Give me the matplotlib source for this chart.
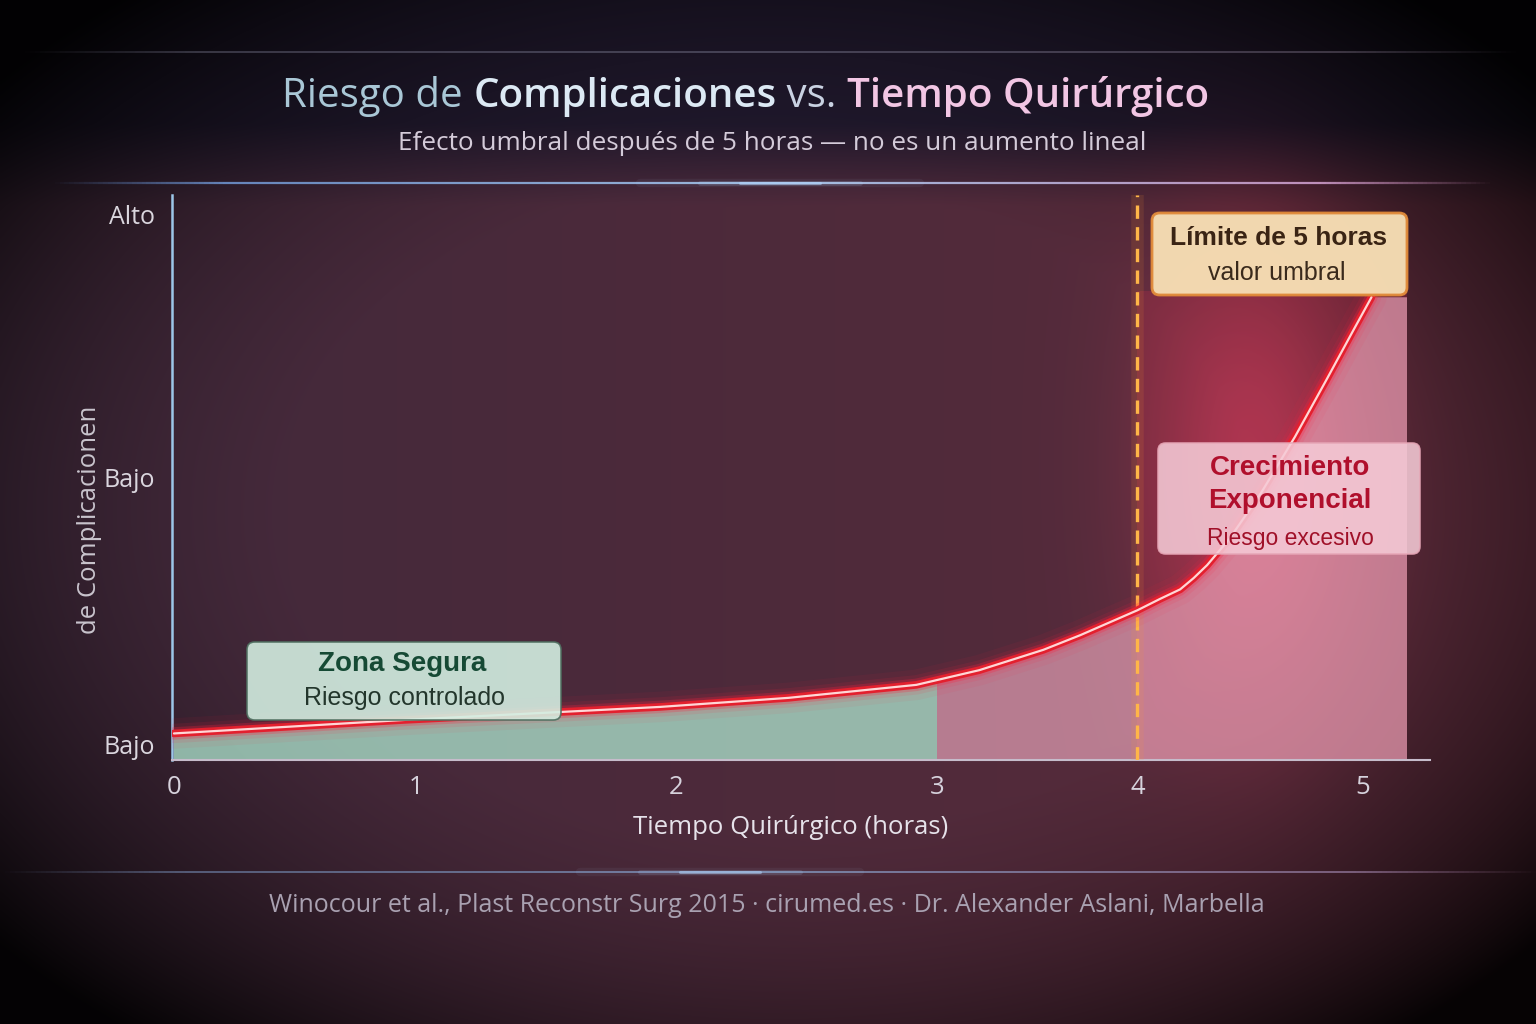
import numpy as np
import matplotlib.pyplot as plt
from matplotlib.patches import FancyBboxPatch, Polygon
from matplotlib.collections import LineCollection
from matplotlib.colors import LinearSegmentedColormap

# ---- data ----
hours = [0, 1, 2, 3, 4, 5]
hour_labels = ['0', '1', '2', '3', '4', '5']
curve_h = [0.0, 0.955, 1.94, 2.43, 2.92, 3.21, 3.53, 3.715, 4.0, 4.1, 4.19, 4.25,
           4.31, 4.41, 4.55, 4.70, 4.84, 4.96, 5.04]
curve_risk = [0.047, 0.071, 0.094, 0.110, 0.133, 0.159, 0.195, 0.221, 0.265, 0.285,
              0.302, 0.322, 0.345, 0.392, 0.473, 0.572, 0.673, 0.761, 0.819]
risk_ticks = [0.027, 0.5, 0.965]
risk_labels = ['Bajo', 'Bajo', 'Alto']
safe_end = 3.0
threshold = 4.0
zone_end = 5.2

# uneven spacing of the hour ticks on the axis (pixels from origin)
tick_px = [0, 242, 502, 763, 963, 1188]

W, H = 1536, 1024
fig = plt.figure(figsize=(15.36, 10.24), dpi=100)


def fx(px):
    return px / W


def fy(py):
    return 1 - py / H


# ---- background ----
yy, xx = np.mgrid[0:1:512j, 0:1:768j]
left_c = np.array([0.25, 0.16, 0.23])
right_c = np.array([0.36, 0.17, 0.23])
img = left_c + (right_c - left_c) * xx[..., None]
topmix = np.clip((0.2 - yy) / 0.08, 0, 1)[..., None]
img = img * (1 - topmix) + np.array([0.13, 0.10, 0.18]) * topmix
glow = np.exp(-(((xx - 0.82) / 0.07) ** 2 + ((yy - 0.45) / 0.24) ** 2))
img = img + glow[..., None] * np.array([0.30, 0.05, 0.09])
d = ((xx - 0.5) / 0.55) ** 2 + ((yy - 0.5) / 0.55) ** 2
vig = np.clip(1.12 - 0.62 * d ** 1.5, 0.07, 1)
img = np.clip(img * vig[..., None], 0, 1)

bg = fig.add_axes([0, 0, 1, 1], zorder=-5)
bg.imshow(img, extent=(0, 1, 0, 1), aspect='auto', interpolation='bicubic')
bg.set_axis_off()


# decorative lines
def glow_line(y, x0, x1, colors, peak, alpha=0.9, lw=1.6):
    xs = np.linspace(x0, x1, 300)
    pts = np.column_stack([fx(xs), np.full_like(xs, fy(y))])
    segs = np.stack([pts[:-1], pts[1:]], axis=1)
    cmap = LinearSegmentedColormap.from_list('g', colors)
    t = (xs[:-1] - x0) / (x1 - x0)
    cols = cmap(t)
    fade = np.clip(np.minimum(t, 1 - t) / 0.12, 0, 1)
    cols[:, 3] = alpha * fade
    fig.add_artist(LineCollection(segs, colors=cols, linewidths=lw,
                                  transform=fig.transFigure))
    if peak is not None:
        for half, w, a in [(140, 6, 0.06), (80, 3.5, 0.15), (40, 2.2, 0.5)]:
            fig.add_artist(plt.Line2D([fx(peak - half), fx(peak + half)], [fy(y), fy(y)],
                                      lw=w, color='#b4d8ff', alpha=a,
                                      transform=fig.transFigure, solid_capstyle='round'))


glow_line(52, 20, 1516, ['#7a7a90', '#9090a8', '#8a7a90'], None, alpha=0.45, lw=1.2)
glow_line(183, 50, 1490, ['#5a80c0', '#a8c8ee', '#d890c0'], 780, alpha=0.9, lw=1.6)
glow_line(872, 0, 1536, ['#6a7aa0', '#90b8e8', '#b080a8'], 720, alpha=0.6, lw=1.4)

# ---- title ----
font = 'Open Sans'
pieces = [('Riesgo de ', '#a9c7d6', 'normal'),
          ('Complicaciones', '#dce9f4', 'semibold'),
          (' vs. ', '#c9d2e2', 'normal'),
          ('Tiempo Quirúrgico', '#f2c6e4', 'semibold')]
anchor = fig.text(fx(282), fy(107), pieces[0][0], color=pieces[0][1],
                  fontsize=29, family=font, weight=pieces[0][2],
                  ha='left', va='baseline')
for txt, col, wt in pieces[1:]:
    anchor = plt.annotate(txt, xy=(1, 0), xycoords=anchor, xytext=(0, 0),
                          textcoords='offset points', color=col, fontsize=29,
                          family=font, weight=wt, ha='left', va='bottom',
                          annotation_clip=False)

fig.text(fx(772), fy(144), 'Efecto umbral después de 5 horas — no es un aumento lineal',
         color='#d4cbd9', fontsize=18.8, family=font, ha='center', va='center')

# ---- main axes ----
ax = fig.add_axes([fx(172), fy(760), fx(1430) - fx(172), fy(195) - fy(760)])
ax.set_facecolor('none')

hp = np.array(hours, float)
tp = np.array(tick_px, float)


def fwd(h):
    h = np.asarray(h, float)
    out = np.interp(h, hp, tp)
    out = np.where(h > hp[-1], tp[-1] + (h - hp[-1]) * 225, out)
    return np.where(h < 0, h * 242, out)


def inv(p):
    p = np.asarray(p, float)
    out = np.interp(p, tp, hp)
    out = np.where(p > tp[-1], hp[-1] + (p - tp[-1]) / 225, out)
    return np.where(p < 0, p / 242, out)


ax.set_xscale('function', functions=(fwd, inv))
ax.set_xlim(-0.008, 5.3)
ax.set_ylim(0, 1)

# area under the curve, used to clip the zone fills
under = Polygon(np.column_stack([[0] + curve_h + [zone_end, zone_end],
                                 [0] + curve_risk + [curve_risk[-1], 0]]),
                closed=True, transform=ax.transData, facecolor='none', edgecolor='none')
ax.add_patch(under)

ax.axvspan(threshold, zone_end, ymax=0.83, color='#e0304e', alpha=0.2, lw=0, zorder=1)
green = ax.axvspan(0, safe_end, color='#b0ead2', alpha=0.74, lw=0, zorder=2)
green.set_clip_path(under)
pink = ax.axvspan(safe_end, zone_end, color='#f6b0c6', alpha=0.62, lw=0, zorder=2)
pink.set_clip_path(under)

# threshold line
ax.axvline(threshold, color='#ff9a30', lw=9, alpha=0.12, zorder=3)
ax.axvline(threshold, color='#ffb648', lw=2.4, ls=(0, (4, 2.5)), zorder=3)

# risk curve with glow
for lw, a in [(22, 0.06), (14, 0.10), (9, 0.25)]:
    ax.plot(curve_h, curve_risk, color='#ff2040', lw=lw, alpha=a,
            solid_capstyle='round', solid_joinstyle='round', zorder=4)
ax.plot(curve_h, curve_risk, color='#e3202e', lw=5.5, solid_capstyle='round',
        solid_joinstyle='round', zorder=5)
ax.plot(curve_h, curve_risk, color='#ffd6d6', lw=1.6, solid_capstyle='round',
        solid_joinstyle='round', zorder=6)

for s in ['top', 'right']:
    ax.spines[s].set_visible(False)
ax.spines['left'].set_color('#9cc6e8')
ax.spines['left'].set_linewidth(1.8)
ax.spines['bottom'].set_color('#c6bccb')
ax.spines['bottom'].set_linewidth(1.5)

ax.set_xticks(hours)
ax.set_xticklabels(hour_labels)
ax.set_yticks(risk_ticks)
ax.set_yticklabels(risk_labels)
ax.xaxis.set_minor_locator(plt.NullLocator())
ax.tick_params(axis='x', length=0, pad=11, labelsize=18.5, labelcolor='#d6d2dc')
ax.tick_params(axis='y', length=0, pad=12, labelsize=18, labelcolor='#dad6de')
for lab in ax.get_xticklabels() + ax.get_yticklabels():
    lab.set_family(font)

fig.text(fx(791), fy(828), 'Tiempo Quirúrgico (horas)', color='#e6e2ea',
         fontsize=18.5, family=font, ha='center', va='center')
fig.text(fx(90), fy(520), 'de Complicacionen', color='#c9c4cd', rotation=90,
         fontsize=18.5, family=font, ha='center', va='center')

# ---- annotation boxes ----
box_font = 'Liberation Sans'


def box(x0, y0, x1, y1, face, edge, alpha, lw=1.2):
    p = FancyBboxPatch((fx(x0), fy(y1)), fx(x1) - fx(x0), fy(y0) - fy(y1),
                       boxstyle='round,pad=0,rounding_size=0.005', mutation_aspect=1.5,
                       facecolor=face, edgecolor=edge, lw=lw, alpha=alpha,
                       transform=fig.transFigure, zorder=10)
    fig.add_artist(p)


box(247, 642, 561, 720, '#d3eee1', '#4f6f60', 0.9)
fig.text(fx(402), fy(664), 'Zona Segura', color='#164a35', fontsize=20,
         weight='bold', family=box_font, ha='center', va='center', zorder=11)
fig.text(fx(404), fy(698), 'Riesgo controlado', color='#23362c', fontsize=18,
         family=box_font, ha='center', va='center', zorder=11)

box(1152, 213, 1407, 295, '#f7deb4', '#e08a3a', 0.97, lw=2)
fig.text(fx(1279), fy(238), 'Límite de 5 horas', color='#3a2414', fontsize=19,
         weight='bold', family=box_font, ha='center', va='center', zorder=11)
fig.text(fx(1277), fy(273), 'valor umbral', color='#3a2a1c', fontsize=18,
         family=box_font, ha='center', va='center', zorder=11)

box(1158, 443, 1420, 554, '#f5cad6', '#e6a6b6', 0.88)
fig.text(fx(1290), fy(468), 'Crecimiento', color='#b00f2c', fontsize=20,
         weight='bold', family=box_font, ha='center', va='center', zorder=11)
fig.text(fx(1290), fy(501), 'Exponencial', color='#b00f2c', fontsize=20,
         weight='bold', family=box_font, ha='center', va='center', zorder=11)
fig.text(fx(1290), fy(538), 'Riesgo excesivo', color='#a01028', fontsize=16.5,
         family=box_font, ha='center', va='center', zorder=11)

# ---- footer ----
fig.text(fx(767), fy(906),
         'Winocour et al., Plast Reconstr Surg 2015 · cirumed.es · Dr. Alexander Aslani, Marbella',
         color='#a9a1b1', fontsize=18, family=font, ha='center', va='center')

fig.savefig('out.png', dpi=100)
